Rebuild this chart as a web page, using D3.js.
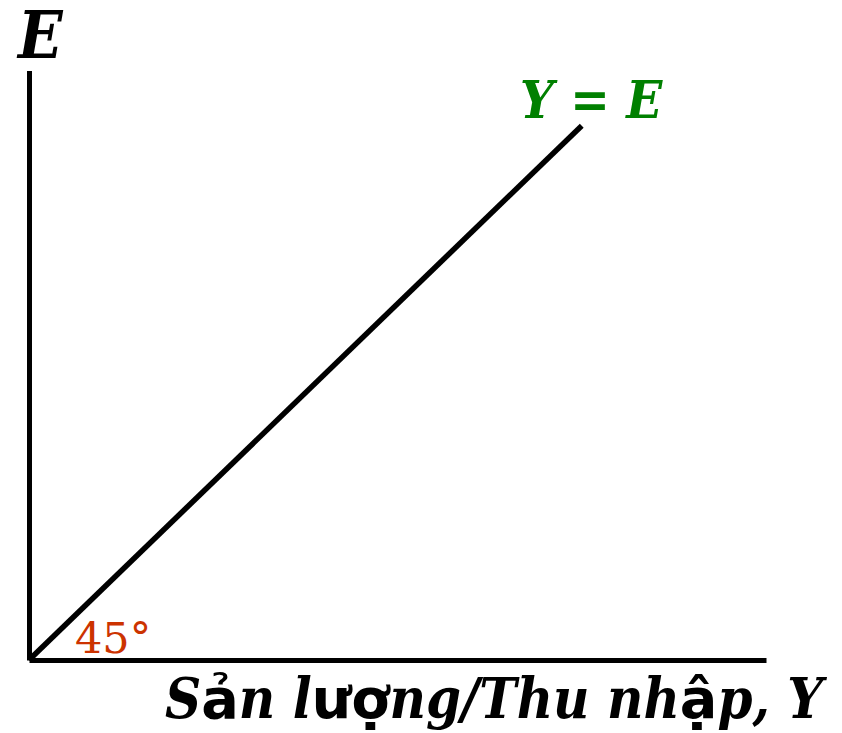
<!DOCTYPE html>
<html>
<head>
	<meta charset="UTF-8" />
	<title>45 degree line</title>
	<script src="https://d3js.org/d3.v7.min.js"></script>
	<style>
		body { margin: 0; background: #fff; }
		text { font-family: "DejaVu Serif", serif; }
		.cond { font-family: "DejaVu Serif Condensed", "DejaVu Serif", serif; font-stretch: condensed; font-weight: bold; font-style: italic; }
		.fb { font-family: "DejaVu Sans", sans-serif; font-style: normal; font-stretch: normal; font-weight: bold; }
	</style>
</head>
<body>
	<svg id="chart" width="842" height="733"></svg>

	<script type="text/javascript">

	// axis extents (in data units) and the 45 degree line Y = E
	var xExtent = [0, 10]
	var yExtent = [0, 8]
	var lineData = [[0, 0], [7.5, 7.25]]

	var axisLabelY = "E"
	var lineLabel = "Y = E"
	var angleLabel = "45°"
	// x label pieces: [text, uses fallback sans glyph]
	var axisLabelX = [["S", 0], ["ả", 1], ["n l", 0], ["ượ", 1], ["ng/Thu nh", 0], ["ậ", 1], ["p, Y", 0]]

	var svg = d3.select("#chart")

	var x = d3.scaleLinear().domain(xExtent).range([29, 766])
	var y = d3.scaleLinear().domain(yExtent).range([660, 70.4])

	// axes (plain lines, no ticks)
	var xAxis = d3.axisBottom(x).tickValues([]).tickSizeOuter(0)
	var yAxis = d3.axisLeft(y).tickValues([]).tickSizeOuter(0)

	svg.append("g")
		.attr("transform", "translate(0," + y(0) + ")")
		.call(xAxis)
		.select(".domain")
		.attr("stroke", "black")
		.attr("stroke-width", 5)

	svg.append("g")
		.attr("transform", "translate(" + x(0) + ",0)")
		.call(yAxis)
		.select(".domain")
		.attr("stroke", "black")
		.attr("stroke-width", 5)

	var line = d3.line()
		.x(d => x(d[0]))
		.y(d => y(d[1]))

	svg.append("path")
		.datum(lineData)
		.attr("d", line)
		.attr("fill", "none")
		.attr("stroke", "black")
		.attr("stroke-width", 5.5)

	// labels
	svg.append("text")
		.attr("class", "cond")
		.attr("x", 18)
		.attr("y", 58)
		.style("font-size", "65px")
		.text(axisLabelY)

	svg.append("text")
		.attr("class", "cond")
		.attr("x", 520)
		.attr("y", 118)
		.style("font-size", "52.5px")
		.attr("fill", "#008000")
		.text(lineLabel)

	svg.append("text")
		.attr("x", 75)
		.attr("y", 653)
		.style("font-size", "43px")
		.attr("fill", "#cc3300")
		.text(angleLabel)

	svg.append("text")
		.attr("class", "cond")
		.attr("x", 165)
		.attr("y", 718)
		.style("font-size", "55.7px")
		.selectAll("tspan")
		.data(axisLabelX)
		.join("tspan")
		.attr("class", d => d[1] ? "fb" : null)
		.text(d => d[0])

	</script>
</body>
</html>
